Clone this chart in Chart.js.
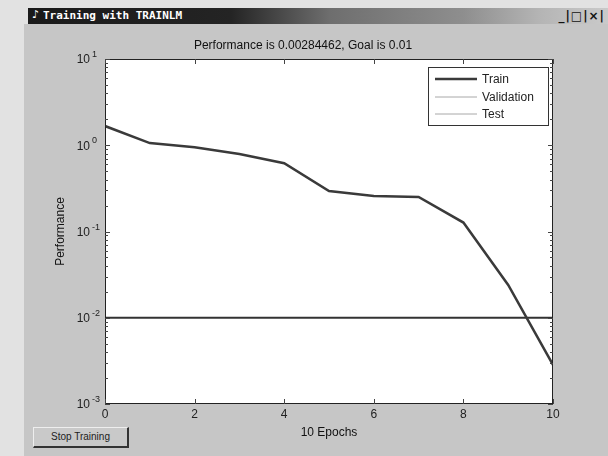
<!DOCTYPE html>
<html>
<head>
<meta charset="utf-8">
<script src="https://cdn.jsdelivr.net/npm/chart.js@4/dist/chart.umd.min.js"></script>
<style>
  html, body { margin: 0; padding: 0; background: #ececec; }
  #wrap { position: relative; width: 608px; height: 456px; overflow: hidden; background: #e2e2e2; }
  #win { position: absolute; left: 24px; top: 24px; width: 584px; height: 432px; background: #c6c6c6; }
  #tbar { position: absolute; left: 28px; top: 8px; width: 580px; height: 16px;
          background: linear-gradient(to right, #1a1a1a 0%, #242424 35%, #6e6e6e 52%, #8e8e8e 75%, #b4b4b4 88%, #cacaca 100%); }
  #tbar .i { position: absolute; left: 4px; top: 0px; color: #fff; font: bold 11px "DejaVu Sans", sans-serif; }
  #tbar .t { position: absolute; left: 15px; top: 1px; color: #fff; font: bold 11px "DejaVu Sans Mono", monospace; }
  #tbar .b { position: absolute; right: 3px; top: 1px; color: #111; font: bold 12px "DejaVu Sans", sans-serif; letter-spacing: 1px; }
  #stop { position: absolute; left: 33px; top: 427px; width: 93px; height: 18px; background: #c9c9c9;
          border-top: 1px solid #eee; border-left: 1px solid #eee; border-right: 2px solid #333; border-bottom: 2px solid #333;
          font: 10px "Liberation Sans", Arial, sans-serif; color: #222; text-align: center; line-height: 18px; }
  canvas { position: absolute; left: 0; top: 0; }
</style>
</head>
<body>
<div id="wrap">
  <div id="win"></div>
  <div id="tbar"><span class="i">♪</span><span class="t">Training with TRAINLM</span><span class="b">_|□|×|</span></div>
  <div id="stop">Stop Training</div>
  <canvas id="c" width="608" height="456"></canvas>
</div>
<script>
const epochs = [0, 1, 2, 3, 4, 5, 6, 7, 8, 9, 10];
const trainPerf = [1.67, 1.06, 0.95, 0.79, 0.62, 0.295, 0.258, 0.251, 0.127, 0.024, 0.00284462];
const goalValue = 0.01;
const goalEpochs = [0, 10];
const yTickExponents = [-3, -2, -1, 0, 1];
const xTickValues = [0, 2, 4, 6, 8, 10];
const chartTitle = 'Performance is 0.00284462, Goal is 0.01';
const xTitle = '10 Epochs';
const yTitle = 'Performance';
const legendLabels = ['Train', 'Validation', 'Test'];

const FONT = '"Liberation Sans", Arial, sans-serif';

const framePlugin = {
  id: 'frame',
  beforeDraw(chart) {
    const {ctx, chartArea: a} = chart;
    ctx.save();
    ctx.fillStyle = '#ffffff';
    ctx.fillRect(a.left, a.top, a.right - a.left, a.bottom - a.top);
    ctx.restore();
  },
  afterDraw(chart) {
    const {ctx, chartArea: a, scales} = chart;
    const ys = scales.y, xs = scales.x;
    ctx.save();
    ctx.strokeStyle = '#222';
    ctx.lineWidth = 1;
    ctx.strokeRect(a.left + 0.5, a.top + 0.5, a.right - a.left - 1, a.bottom - a.top - 1);
    ctx.beginPath();
    ctx.strokeStyle = '#444';
    for (let e = yTickExponents[0]; e <= yTickExponents[yTickExponents.length - 1]; e++) {
      const yp = Math.round(ys.getPixelForValue(Math.pow(10, e))) + 0.5;
      ctx.moveTo(a.left, yp); ctx.lineTo(a.left + 5, yp);
      ctx.moveTo(a.right, yp); ctx.lineTo(a.right - 5, yp);
      if (e < yTickExponents[yTickExponents.length - 1]) {
        for (let m = 2; m <= 9; m++) {
          const ym = Math.round(ys.getPixelForValue(m * Math.pow(10, e))) + 0.5;
          ctx.moveTo(a.left, ym); ctx.lineTo(a.left + 3, ym);
          ctx.moveTo(a.right, ym); ctx.lineTo(a.right - 3, ym);
        }
      }
    }
    for (const v of xTickValues) {
      const xp = Math.round(xs.getPixelForValue(v)) + 0.5;
      ctx.moveTo(xp, a.bottom); ctx.lineTo(xp, a.bottom - 5);
      ctx.moveTo(xp, a.top); ctx.lineTo(xp, a.top + 5);
    }
    ctx.stroke();
    ctx.fillStyle = '#222';
    for (const e of yTickExponents) {
      const yp = ys.getPixelForValue(Math.pow(10, e));
      ctx.font = '12px ' + FONT;
      ctx.textAlign = 'right';
      ctx.textBaseline = 'middle';
      ctx.fillText('10', a.left - 15, yp + 1);
      ctx.font = '9px ' + FONT;
      ctx.textAlign = 'left';
      ctx.textBaseline = 'alphabetic';
      ctx.fillText(String(e), a.left - 13, yp - 2);
    }
    const lx = 428, ly = 67, lw = 120, lh = 58;
    ctx.fillStyle = '#fff';
    ctx.fillRect(lx, ly, lw, lh);
    ctx.strokeStyle = '#333';
    ctx.lineWidth = 1;
    ctx.strokeRect(lx + 0.5, ly + 0.5, lw, lh);
    const rows = [79, 97, 114];
    legendLabels.forEach((lab, i) => {
      const ds = chart.data.datasets.find(d => d.label === lab);
      ctx.beginPath();
      ctx.strokeStyle = ds.borderColor;
      ctx.lineWidth = ds.borderWidth;
      ctx.moveTo(435, rows[i]); ctx.lineTo(477, rows[i]);
      ctx.stroke();
      ctx.fillStyle = '#222';
      ctx.font = '12px ' + FONT;
      ctx.textAlign = 'left';
      ctx.textBaseline = 'middle';
      ctx.fillText(lab, 482, rows[i] + 1);
    });
    ctx.restore();
  }
};

new Chart(document.getElementById('c'), {
  type: 'line',
  data: {
    datasets: [
      {
        label: 'Train',
        data: epochs.map((x, i) => ({x: x, y: trainPerf[i]})),
        borderColor: '#3a3a3a',
        borderWidth: 2.5,
        pointRadius: 0,
        tension: 0,
        fill: false
      },
      {
        label: 'Goal',
        data: goalEpochs.map(x => ({x: x, y: goalValue})),
        borderColor: '#333333',
        borderWidth: 2,
        pointRadius: 0,
        fill: false
      },
      {
        label: 'Validation',
        data: [],
        borderColor: '#a8a8a8',
        borderWidth: 1,
        pointRadius: 0
      },
      {
        label: 'Test',
        data: [],
        borderColor: '#a8a8a8',
        borderWidth: 1,
        pointRadius: 0
      }
    ]
  },
  options: {
    responsive: false,
    animation: false,
    layout: { padding: { top: 34, left: 53, right: 55, bottom: 16 } },
    plugins: {
      legend: { display: false },
      tooltip: { enabled: false },
      title: {
        display: true,
        text: chartTitle,
        color: '#111',
        font: { family: FONT, size: 12, weight: 'normal' },
        padding: { top: 4.8, bottom: 5.8 }
      }
    },
    scales: {
      x: {
        type: 'linear',
        min: 0,
        max: 10,
        afterBuildTicks(scale) { scale.ticks = xTickValues.map(v => ({value: v})); },
        afterFit(scale) { scale.height = 36; },
        grid: { display: false, drawTicks: false },
        border: { display: false },
        ticks: { padding: 3, color: '#222', font: { family: FONT, size: 12 }, maxRotation: 0 },
        title: { display: true, text: xTitle, color: '#111', font: { family: FONT, size: 12 }, padding: 0 }
      },
      y: {
        type: 'logarithmic',
        min: 1e-3,
        max: 10,
        afterBuildTicks(scale) { scale.ticks = yTickExponents.map(e => ({value: Math.pow(10, e), major: true})); },
        afterFit(scale) { scale.width = 52; },
        grid: { display: false, drawTicks: false },
        border: { display: false },
        ticks: { display: false },
        title: { display: true, text: yTitle, color: '#111', font: { family: FONT, size: 12 }, padding: 0 }
      }
    }
  },
  plugins: [framePlugin]
});
</script>
</body>
</html>
